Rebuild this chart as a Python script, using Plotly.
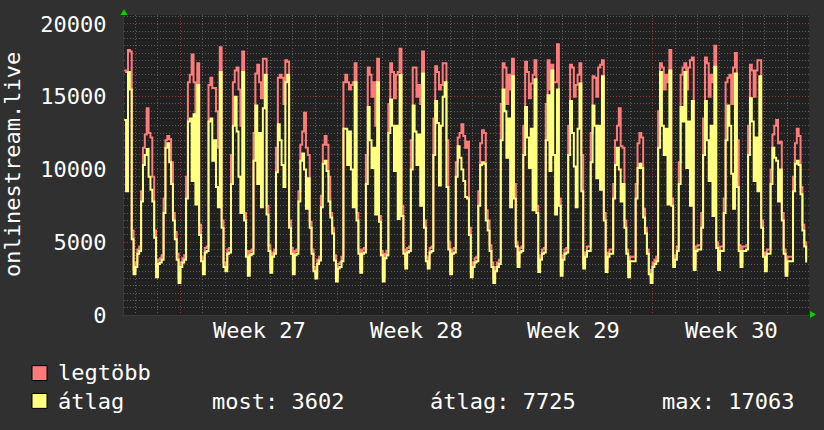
import plotly.graph_objects as go

# ---------------- data (2-hour consolidated steps) ----------------
# time axis: days since Monday 00:00 of week 27; first step = Friday 12:00 (week 26)
start_day = -2.5
step_hours = 2

# "átlag" (average) per week, 12 steps per day (00,02,...,22 h)
avg_w26 = [13400, 8500, 16700, 15500, 5200, 2800,                                   # Fri 12-22h
           3300, 4200, 4400, 7800, 10300, 11000, 11400, 9500, 8600, 7800, 5300, 2600,  # Sat
           3500, 3600, 3800, 7000, 11500, 11800, 10500, 9000, 6500, 5200, 3800, 2200]  # Sun
avg_w27 = [3300, 3600, 3800, 8000, 13300, 13500, 9200, 13800, 7600, 15800, 5500, 3700,
           2800, 4300, 4400, 13300, 13500, 10600, 12000, 8800, 7400, 16700, 6000, 3300,
           3000, 4200, 4300, 9000, 13000, 15000, 12600, 9500, 7000, 16700, 6500, 4000,
           2700, 4100, 4200, 10600, 14400, 9000, 12500, 7400, 14200, 16500, 6900, 4400,
           2900, 4000, 4200, 9800, 13100, 12000, 10300, 8800, 16000, 16500, 6000, 4200,
           2800, 4100, 4200, 7800, 10600, 11100, 10000, 7300, 9400, 6000, 4200, 3000,
           2500, 3500, 3750, 7400, 10400, 10600, 9900, 7800, 6700, 5600, 3750, 2300]
avg_w28 = [3200, 3300, 3700, 12800, 12800, 10300, 12600, 10000, 7400, 16000, 6500, 4200,
           2900, 4200, 4300, 9000, 14300, 12000, 10100, 11500, 6900, 16000, 6400, 4100,
           2300, 3900, 4100, 12500, 14800, 13000, 9900, 13000, 6600, 16500, 6800, 4200,
           3200, 4300, 4400, 10000, 14400, 12600, 10300, 12400, 7500, 16600, 6000, 3700,
           3200, 4300, 4400, 11000, 14700, 13200, 8900, 13000, 15000, 16000, 8800, 4500,
           2800, 4200, 4300, 9500, 11600, 10800, 10000, 9200, 8100, 8000, 5500, 2600,
           3300, 3600, 3700, 7500, 10300, 10500, 10400, 6500, 5800, 4400, 3300, 2200]
avg_w29 = [3000, 3300, 3500, 12000, 15500, 14000, 10800, 13500, 7400, 16400, 8000, 4700,
           3300, 4300, 4400, 11000, 14300, 12200, 10100, 12800, 7200, 16200, 7000, 2950,
           3800, 4200, 4300, 12000, 15100, 9900, 16800, 11000, 6900, 15500, 7500, 2700,
           3800, 4200, 4300, 11000, 14700, 12500, 10200, 7400, 12800, 15900, 8500, 3200,
           4000, 4400, 4400, 10500, 14400, 13000, 9400, 13000, 8600, 16400, 6500, 2950,
           4000, 4200, 4200, 8000, 10300, 11500, 10000, 7800, 9000, 6000, 4200, 2600,
           3700, 3700, 3700, 8000, 10100, 10400, 10100, 6700, 5600, 4200, 2800, 2200]
avg_w30 = [3300, 3500, 3700, 11500, 16700, 13000, 11000, 12800, 7600, 16800, 7500, 3300,
           3800, 4400, 9000, 14300, 13300, 16700, 10100, 13300, 7500, 14700, 3100, 4400,
           4500, 4500, 6000, 11000, 14700, 12000, 9200, 13000, 6800, 17063, 4600, 3100,
           4400, 4400, 7000, 12000, 14400, 13000, 9700, 7300, 16600, 8800, 4400, 3300,
           4400, 4400, 4500, 11000, 14900, 13300, 9200, 12200, 8500, 16400, 6000, 4000,
           3000, 4200, 4200, 9000, 11500, 10800, 10600, 7800, 10000, 6500, 4200, 2700,
           3700, 3700, 3700, 8500, 10400, 10600, 10300, 8300, 5800, 4700, 3602]

# "legtöbb" (maximum) per week
max_w26 = [16800, 16700, 18200, 18100, 5800, 3100,
           3600, 4500, 4700, 8500, 11500, 12400, 14200, 12500, 12200, 9500, 5800, 2900,
           3800, 3900, 4100, 8000, 12000, 12300, 12100, 10500, 7000, 5700, 4200, 2500]
max_w27 = [3600, 3900, 4100, 9500, 16000, 16500, 17900, 16000, 13000, 17300, 6200, 4000,
           3100, 4600, 4700, 15800, 16300, 15600, 15600, 14000, 11500, 18400, 6500, 3600,
           3300, 4500, 4600, 11000, 16000, 16800, 17000, 15500, 13000, 18100, 7000, 4400,
           3000, 4400, 4500, 12500, 16600, 17200, 16000, 14900, 17600, 17600, 7500, 4800,
           3200, 4300, 4500, 11500, 16300, 16500, 16300, 14500, 17500, 17400, 6500, 4600,
           3100, 4400, 4500, 8500, 11700, 12600, 13900, 11500, 11000, 6400, 4500, 3300,
           2800, 3800, 4000, 8200, 11700, 12300, 11700, 9500, 7000, 6000, 4100, 2600]
max_w28 = [3500, 3600, 4000, 16000, 16500, 16000, 15500, 15800, 16000, 17300, 7000, 4500,
           3200, 4500, 4600, 11000, 17000, 16500, 15000, 16000, 13000, 17600, 6800, 4400,
           2600, 4200, 4400, 14500, 17300, 16700, 14900, 16500, 16700, 18300, 7500, 4500,
           3500, 4600, 4700, 12000, 17000, 17000, 15000, 15800, 14500, 18100, 6500, 4000,
           3500, 4600, 4700, 13500, 17100, 16700, 15500, 15800, 17300, 17300, 12000, 5000,
           3100, 4500, 4600, 10500, 12200, 12500, 13100, 12300, 11500, 11900, 6000, 2900,
           3600, 3900, 4000, 8500, 11800, 12700, 12500, 7200, 6500, 4800, 3600, 2500]
max_w29 = [3300, 3600, 3800, 14500, 17300, 17000, 14500, 16500, 15500, 17600, 9000, 5000,
           3600, 4600, 4700, 13000, 17400, 16700, 14900, 15900, 16500, 17500, 7500, 3250,
           4100, 4500, 4600, 14500, 17500, 15500, 17200, 16000, 16000, 18600, 8000, 3000,
           4100, 4500, 4600, 13000, 17200, 17000, 15000, 15800, 16500, 17300, 11000, 3500,
           4300, 4700, 4700, 12500, 16400, 16300, 15000, 17000, 17200, 17500, 7000, 3250,
           4300, 4500, 4500, 9000, 12000, 13000, 14200, 11600, 11500, 6500, 4500, 2900,
           4000, 4000, 4000, 9000, 11800, 12500, 12200, 7300, 6000, 4500, 3100, 2500]
max_w30 = [3600, 3800, 4000, 14000, 17300, 17000, 15500, 16500, 16000, 18200, 8000, 3600,
           4100, 4700, 10500, 16500, 17000, 17300, 15500, 17000, 17500, 17700, 3400, 4700,
           4800, 4800, 7000, 13500, 17700, 17300, 15000, 16500, 16000, 18500, 5000, 3400,
           4700, 4700, 8000, 16000, 16300, 16500, 14500, 17000, 18000, 12000, 4800, 3600,
           4700, 4700, 4800, 13000, 17200, 16800, 15000, 16800, 17500, 17500, 6500, 4300,
           3300, 4500, 4500, 10000, 12400, 13000, 13400, 11800, 11900, 7000, 4500, 3000,
           4000, 4000, 4000, 9500, 11800, 12800, 12300, 8800, 6200, 5000, 3900]

# axis / legend texts
y_ticks = [0, 5000, 10000, 15000, 20000]
y_ticktext = ["0", "5000", "10000", "15000", "20000"]
week_starts = [0, 7, 14, 21]
week_mids = [3.5, 10.5, 17.5, 24.5]
week_labels = ["Week 27", "Week 28", "Week 29", "Week 30"]
day_lines = list(range(-2, 28))
y_minor = list(range(0, 20501, 500))
y_title = "onlinestream.live"
series_names = ["legtöbb", "átlag"]
stats_text = ["most: 3602", "átlag: 7725", "max: 17063"]

avg_vals = avg_w26 + avg_w27 + avg_w28 + avg_w29 + avg_w30
max_vals = max_w26 + max_w27 + max_w28 + max_w29 + max_w30
x_vals = [start_day + i * step_hours / 24 for i in range(len(avg_vals))]

RED = "#ff7b7b"
YEL = "#ffff80"
FONT = "DejaVu Sans Mono"

fig = go.Figure()
fig.add_trace(go.Scatter(x=x_vals, y=max_vals, mode="lines", name=series_names[0],
                         line=dict(color=RED, width=2, shape="hv")))
fig.add_trace(go.Scatter(x=x_vals, y=avg_vals, mode="lines", name=series_names[1],
                         line=dict(color=YEL, width=2, shape="hv")))

PL, PR, PT, PB = 124, 809, 13, 315


def px(xp):
    return (xp - PL) / (PR - PL)


def py(yp):
    return (PB - yp) / (PB - PT)


fig.update_layout(
    width=824, height=430,
    margin=dict(l=PL, r=824 - PR, t=PT, b=430 - PB, pad=0),
    paper_bgcolor="#303030", plot_bgcolor="#212121",
    showlegend=False,
    font=dict(family=FONT, size=22, color="#ffffff"),
    xaxis=dict(range=[-2.51, 27.96], tickmode="array", tickvals=week_starts,
               showticklabels=False, ticks="",
               showgrid=True, gridcolor="#8c3a3a", griddash="1px,2px", gridwidth=1,
               minor=dict(tickmode="array", tickvals=day_lines, showgrid=True,
                          gridcolor="#5c5c5c", griddash="1px,2px", gridwidth=1),
               zeroline=False, showline=True, linecolor="#3a3a3a", linewidth=1),
    yaxis=dict(range=[0, 20613], tickmode="array", tickvals=y_ticks, ticktext=y_ticktext,
               ticks="", ticklabelstandoff=12,
               showgrid=True, gridcolor="#8c3a3a", griddash="1px,2px", gridwidth=1,
               minor=dict(tickmode="array", tickvals=y_minor, showgrid=True,
                          gridcolor="#5c5c5c", griddash="1px,2px", gridwidth=1),
               zeroline=False, showline=True, linecolor="#3a3a3a", linewidth=1,
               tickfont=dict(family=FONT, size=22, color="#ffffff")),
)

annotations = []
for xm, lab in zip(week_mids, week_labels):
    annotations.append(dict(x=xm, y=py(331), xref="x", yref="paper", text=lab,
                            showarrow=False, xanchor="center", yanchor="middle",
                            font=dict(family=FONT, size=22, color="#ffffff")))
annotations.append(dict(x=px(12), y=py(164), xref="paper", yref="paper", text=y_title,
                        textangle=-90, showarrow=False, xanchor="center", yanchor="middle",
                        font=dict(family=FONT, size=22, color="#ffffff")))
annotations.append(dict(x=px(56), y=py(373), xref="paper", yref="paper", text=series_names[0],
                        showarrow=False, xanchor="left", yanchor="middle",
                        font=dict(family=FONT, size=22, color="#ffffff")))
annotations.append(dict(x=px(56), y=py(402), xref="paper", yref="paper", text=series_names[1],
                        showarrow=False, xanchor="left", yanchor="middle",
                        font=dict(family=FONT, size=22, color="#ffffff")))
for xs, txt in zip([210, 428, 660], stats_text):
    annotations.append(dict(x=px(xs), y=py(402), xref="paper", yref="paper", text=txt,
                            showarrow=False, xanchor="left", yanchor="middle",
                            font=dict(family=FONT, size=22, color="#ffffff")))
fig.update_layout(annotations=annotations)

shapes = []
for (y0, y1), col in zip([(366, 381), (394, 409)], [RED, YEL]):
    shapes.append(dict(type="rect", xref="paper", yref="paper",
                       x0=px(32), x1=px(47), y0=py(y1), y1=py(y0),
                       fillcolor=col, line=dict(color="#000000", width=1)))
# axis arrows
shapes.append(dict(type="path", xref="paper", yref="paper",
                   path=f"M {px(120.5)} {py(13)} L {px(127.5)} {py(13)} L {px(124)} {py(7)} Z",
                   fillcolor="#00d000", line=dict(width=0)))
shapes.append(dict(type="path", xref="paper", yref="paper",
                   path=f"M {px(810)} {py(311)} L {px(810)} {py(318)} L {px(816)} {py(314.5)} Z",
                   fillcolor="#00d000", line=dict(width=0)))
fig.update_layout(shapes=shapes)

fig.write_html("out.html")
